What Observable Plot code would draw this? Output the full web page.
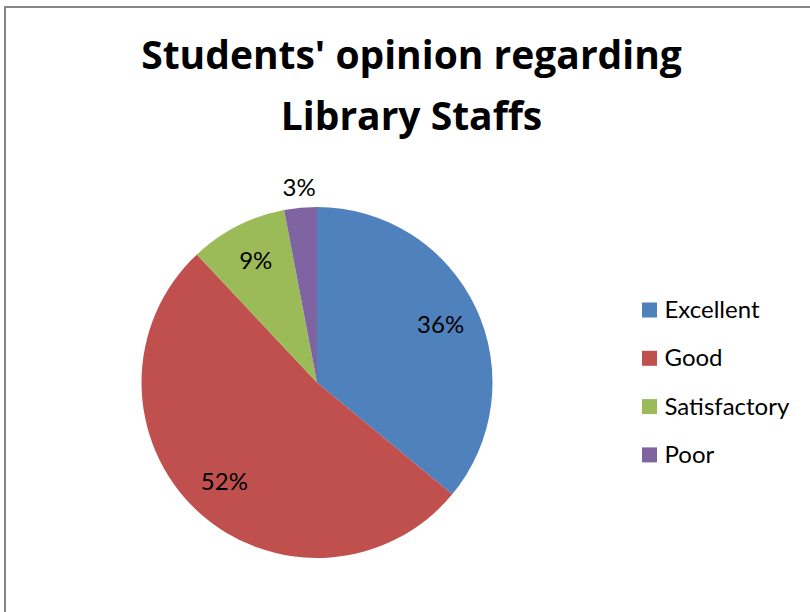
<!DOCTYPE html>
<html><head><meta charset="utf-8">
<script src="https://cdn.jsdelivr.net/npm/d3@7"></script>
<script src="https://cdn.jsdelivr.net/npm/@observablehq/plot@0.6"></script>
<style>
body{margin:0;background:#fff;overflow:hidden}
#wrap{position:relative;width:810px;height:612px;overflow:hidden;background:#fff}
#frame{position:absolute;left:4px;top:6px;width:900px;height:700px;border:2px solid #868686;box-sizing:border-box}
#chart{position:absolute;left:0;top:0}
</style></head><body>
<div id="wrap"><div id="frame"></div><div id="chart"></div></div>
<script>
const categories = ["Excellent", "Good", "Satisfactory", "Poor"];
const percentages = [36, 52, 9, 3];
const labels = ["36%", "52%", "9%", "3%"];
const colors = ["#4F81BD", "#C0504D", "#9BBB59", "#8064A2"];
const titleLines = ["Students' opinion regarding", "Library Staffs"];

const data = categories.map((c, i) => ({category: c, value: percentages[i], label: labels[i]}));
const cx = 317, cy = 382.5, R = 175.5;
const arcs = d3.pie().sort(null).value(d => d.value)(data);
const arcGen = d3.arc().innerRadius(0).outerRadius(R);
const labelPos = arcs.map(a => {
  const r = a.data.value < 5 ? R * 1.115 : R * 0.775;
  const [x, y] = d3.arc().innerRadius(r).outerRadius(r).centroid(a);
  return {...a.data, x: cx + x, y: cy + y};
});

const pieMark = (index, scales) => {
  const g = d3.create("svg:g").attr("transform", `translate(${scales.x(cx)},${scales.y(cy)})`);
  g.selectAll("path").data(arcs).join("path")
    .attr("d", arcGen)
    .attr("fill", d => scales.color(d.data.category));
  return g.node();
};

const legendX = 642, legendY = 310, legendStep = 48.3, sw = 15;

const chart = Plot.plot({
  width: 810,
  height: 612,
  margin: 0,
  x: {type: "identity", axis: null},
  y: {type: "identity", axis: null},
  color: {domain: categories, range: colors},
  style: {fontFamily: "Lato", background: "transparent", overflow: "visible"},
  marks: [
    pieMark,
    Plot.text(labelPos, {x: "x", y: "y", text: "label", fontSize: 24, fill: "black"}),
    Plot.rect(data, {
      x1: () => legendX, x2: () => legendX + sw,
      y1: (d, i) => legendY + i * legendStep - sw / 2,
      y2: (d, i) => legendY + i * legendStep + sw / 2,
      fill: "category"
    }),
    Plot.text(data, {
      x: () => legendX + sw + 7,
      y: (d, i) => legendY + i * legendStep,
      text: "category", textAnchor: "start", fontSize: 24, fill: "black"
    }),
    Plot.text(titleLines, {
      x: () => 411, y: (d, i) => 68 + i * 61,
      text: d => d, lineAnchor: "bottom",
      fontSize: 39, fontWeight: "bold", fill: "black",
      fontFamily: "Open Sans"
    })
  ]
});
document.getElementById("chart").appendChild(chart);
</script>
</body></html>
